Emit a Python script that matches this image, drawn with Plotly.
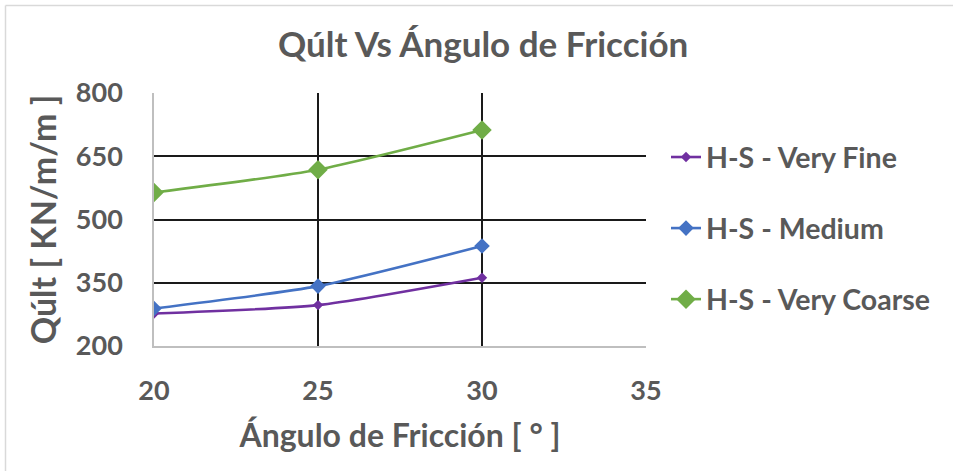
import plotly.graph_objects as go

# Friction angle (degrees) and ultimate bearing capacity per soil type
angles = [20, 25, 30]
very_fine = [277, 297, 362]
medium = [289, 342, 437]
very_coarse = [564, 618, 712]

series_names = ["H-S - Very Fine", "H-S - Medium", "H-S - Very Coarse"]
series_values = [very_fine, medium, very_coarse]
series_colors = ["#7030A0", "#4472C4", "#70AD47"]
marker_sizes = [8, 12, 15]

x_ticks = [20, 25, 30, 35]
y_ticks = [200, 350, 500, 650, 800]

W, H = 953, 471
ML, MR, MT, MB = 154, 307, 93, 125

FONT = "Lato"
GREY = "#595959"

fig = go.Figure()
for i, (name, vals, col, ms) in enumerate(zip(series_names, series_values, series_colors, marker_sizes)):
    fig.add_trace(go.Scatter(
        x=angles, y=vals, name=name, mode="lines+markers",
        line=dict(color=col, width=2.6, shape="spline", smoothing=0.6),
        marker=dict(symbol="diamond", size=ms, color=col),
        legendgroup=f"g{i}",
    ))

pw = W - ML - MR
ph = H - MT - MB


def px_x(p):
    return (p - ML) / pw


def px_y(p):
    return (H - MB - p) / ph


# thin frame lines along the top and left edges of the chart
shapes = [
    dict(type="line", xref="paper", yref="paper", x0=px_x(5.5), x1=px_x(W), y0=px_y(5.5), y1=px_y(5.5),
         line=dict(color="#D9D9D9", width=1.5)),
    dict(type="line", xref="paper", yref="paper", x0=px_x(5.5), x1=px_x(5.5), y0=px_y(5.5), y1=px_y(H),
         line=dict(color="#D9D9D9", width=1.5)),
]

fig.update_layout(
    width=W, height=H,
    margin=dict(l=ML, r=MR, t=MT, b=MB),
    paper_bgcolor="white", plot_bgcolor="white",
    font=dict(family=FONT, color=GREY, weight="bold"),
    title=dict(text="Qúlt Vs Ángulo de Fricción", x=0.507, xanchor="center", y=1 - 45 / H, yanchor="middle",
               font=dict(size=35, family=FONT, color=GREY, weight="bold")),
    xaxis=dict(
        range=[20, 35], tickvals=x_ticks, ticktext=[str(v) for v in x_ticks],
        showgrid=True, gridcolor="#1a1a1a", gridwidth=1.5,
        showline=True, linecolor="#BFBFBF", linewidth=1.5,
        zeroline=False, ticks="", ticklabelstandoff=20,
        tickfont=dict(size=27, family=FONT, color=GREY, weight="bold"),
        title=dict(text="Ángulo de Fricción [ ° ]", standoff=19,
                   font=dict(size=32, family=FONT, color=GREY, weight="bold")),
    ),
    yaxis=dict(
        range=[200, 800], tickvals=y_ticks, ticktext=[str(v) for v in y_ticks],
        showgrid=True, gridcolor="#1a1a1a", gridwidth=1.5,
        showline=True, linecolor="#BFBFBF", linewidth=1.5,
        zeroline=False, ticks="", ticklabelstandoff=24,
        tickfont=dict(size=27, family=FONT, color=GREY, weight="bold"),
        title=dict(text="Qúlt [ KN/m/m ]", standoff=9,
                   font=dict(size=34, family=FONT, color=GREY, weight="bold")),
    ),
    legend=dict(
        x=px_x(666), xanchor="left", y=px_y(132), yanchor="top",
        traceorder="grouped", tracegroupgap=31,
        font=dict(size=28.5, family=FONT, color=GREY, weight="bold"),
        itemwidth=30, bgcolor="rgba(0,0,0,0)",
    ),
    shapes=shapes,
)

fig.write_html("out.html")
